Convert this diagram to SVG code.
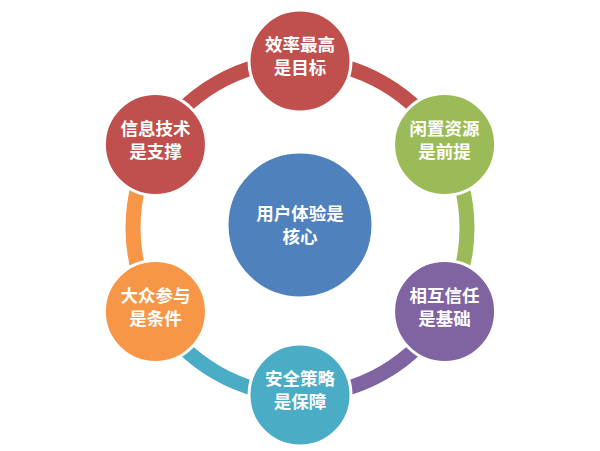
<svg xmlns="http://www.w3.org/2000/svg" width="600" height="451" viewBox="0 0 600 451">
<style>
.seg{fill:none;stroke-width:15}
.node{stroke:#fff;stroke-width:3}
.t{font-family:"Liberation Sans","Noto Sans CJK SC",sans-serif;font-size:17.5px;font-weight:bold;fill:#fff;text-anchor:middle}
</style>
<rect width="600" height="451" fill="#fff"/>
<g id="connectors">
<path class="seg" stroke="#C0504D" d="M300,61 A167,167 0 0 1 444.63,144.5"/>
<path class="seg" stroke="#9BBB59" d="M444.63,144.5 A167,167 0 0 1 444.63,311.5"/>
<path class="seg" stroke="#8064A2" d="M444.63,311.5 A167,167 0 0 1 300,395"/>
<path class="seg" stroke="#4BACC6" d="M300,395 A167,167 0 0 1 155.37,311.5"/>
<path class="seg" stroke="#F79646" d="M155.37,311.5 A167,167 0 0 1 155.37,144.5"/>
<path class="seg" stroke="#C0504D" d="M155.37,144.5 A167,167 0 0 1 300,61"/>
</g>
<g id="center">
<circle class="node" cx="300" cy="225" r="73" fill="#4F81BD"/>
<text class="t"><tspan x="300" y="219.5">用户体验是</tspan><tspan x="300" y="242.5">核心</tspan></text>
</g>
<g id="n-top">
<circle class="node" cx="300" cy="61" r="51" fill="#C0504D"/>
<text class="t"><tspan x="300" y="51">效率最高</tspan><tspan x="300" y="74">是目标</tspan></text>
</g>
<g id="n-ur">
<circle class="node" cx="444.6" cy="144.5" r="51" fill="#9BBB59"/>
<text class="t"><tspan x="444.6" y="134.5">闲置资源</tspan><tspan x="444.6" y="157.5">是前提</tspan></text>
</g>
<g id="n-lr">
<circle class="node" cx="444.6" cy="311.5" r="51" fill="#8064A2"/>
<text class="t"><tspan x="444.6" y="301.5">相互信任</tspan><tspan x="444.6" y="324.5">是基础</tspan></text>
</g>
<g id="n-bottom">
<circle class="node" cx="300" cy="395" r="51" fill="#4BACC6"/>
<text class="t"><tspan x="300" y="385">安全策略</tspan><tspan x="300" y="408">是保障</tspan></text>
</g>
<g id="n-ll">
<circle class="node" cx="155.4" cy="311.5" r="51" fill="#F79646"/>
<text class="t"><tspan x="155.4" y="301.5">大众参与</tspan><tspan x="155.4" y="324.5">是条件</tspan></text>
</g>
<g id="n-ul">
<circle class="node" cx="155.4" cy="144.5" r="51" fill="#C0504D"/>
<text class="t"><tspan x="155.4" y="134.5">信息技术</tspan><tspan x="155.4" y="157.5">是支撑</tspan></text>
</g>
</svg>
